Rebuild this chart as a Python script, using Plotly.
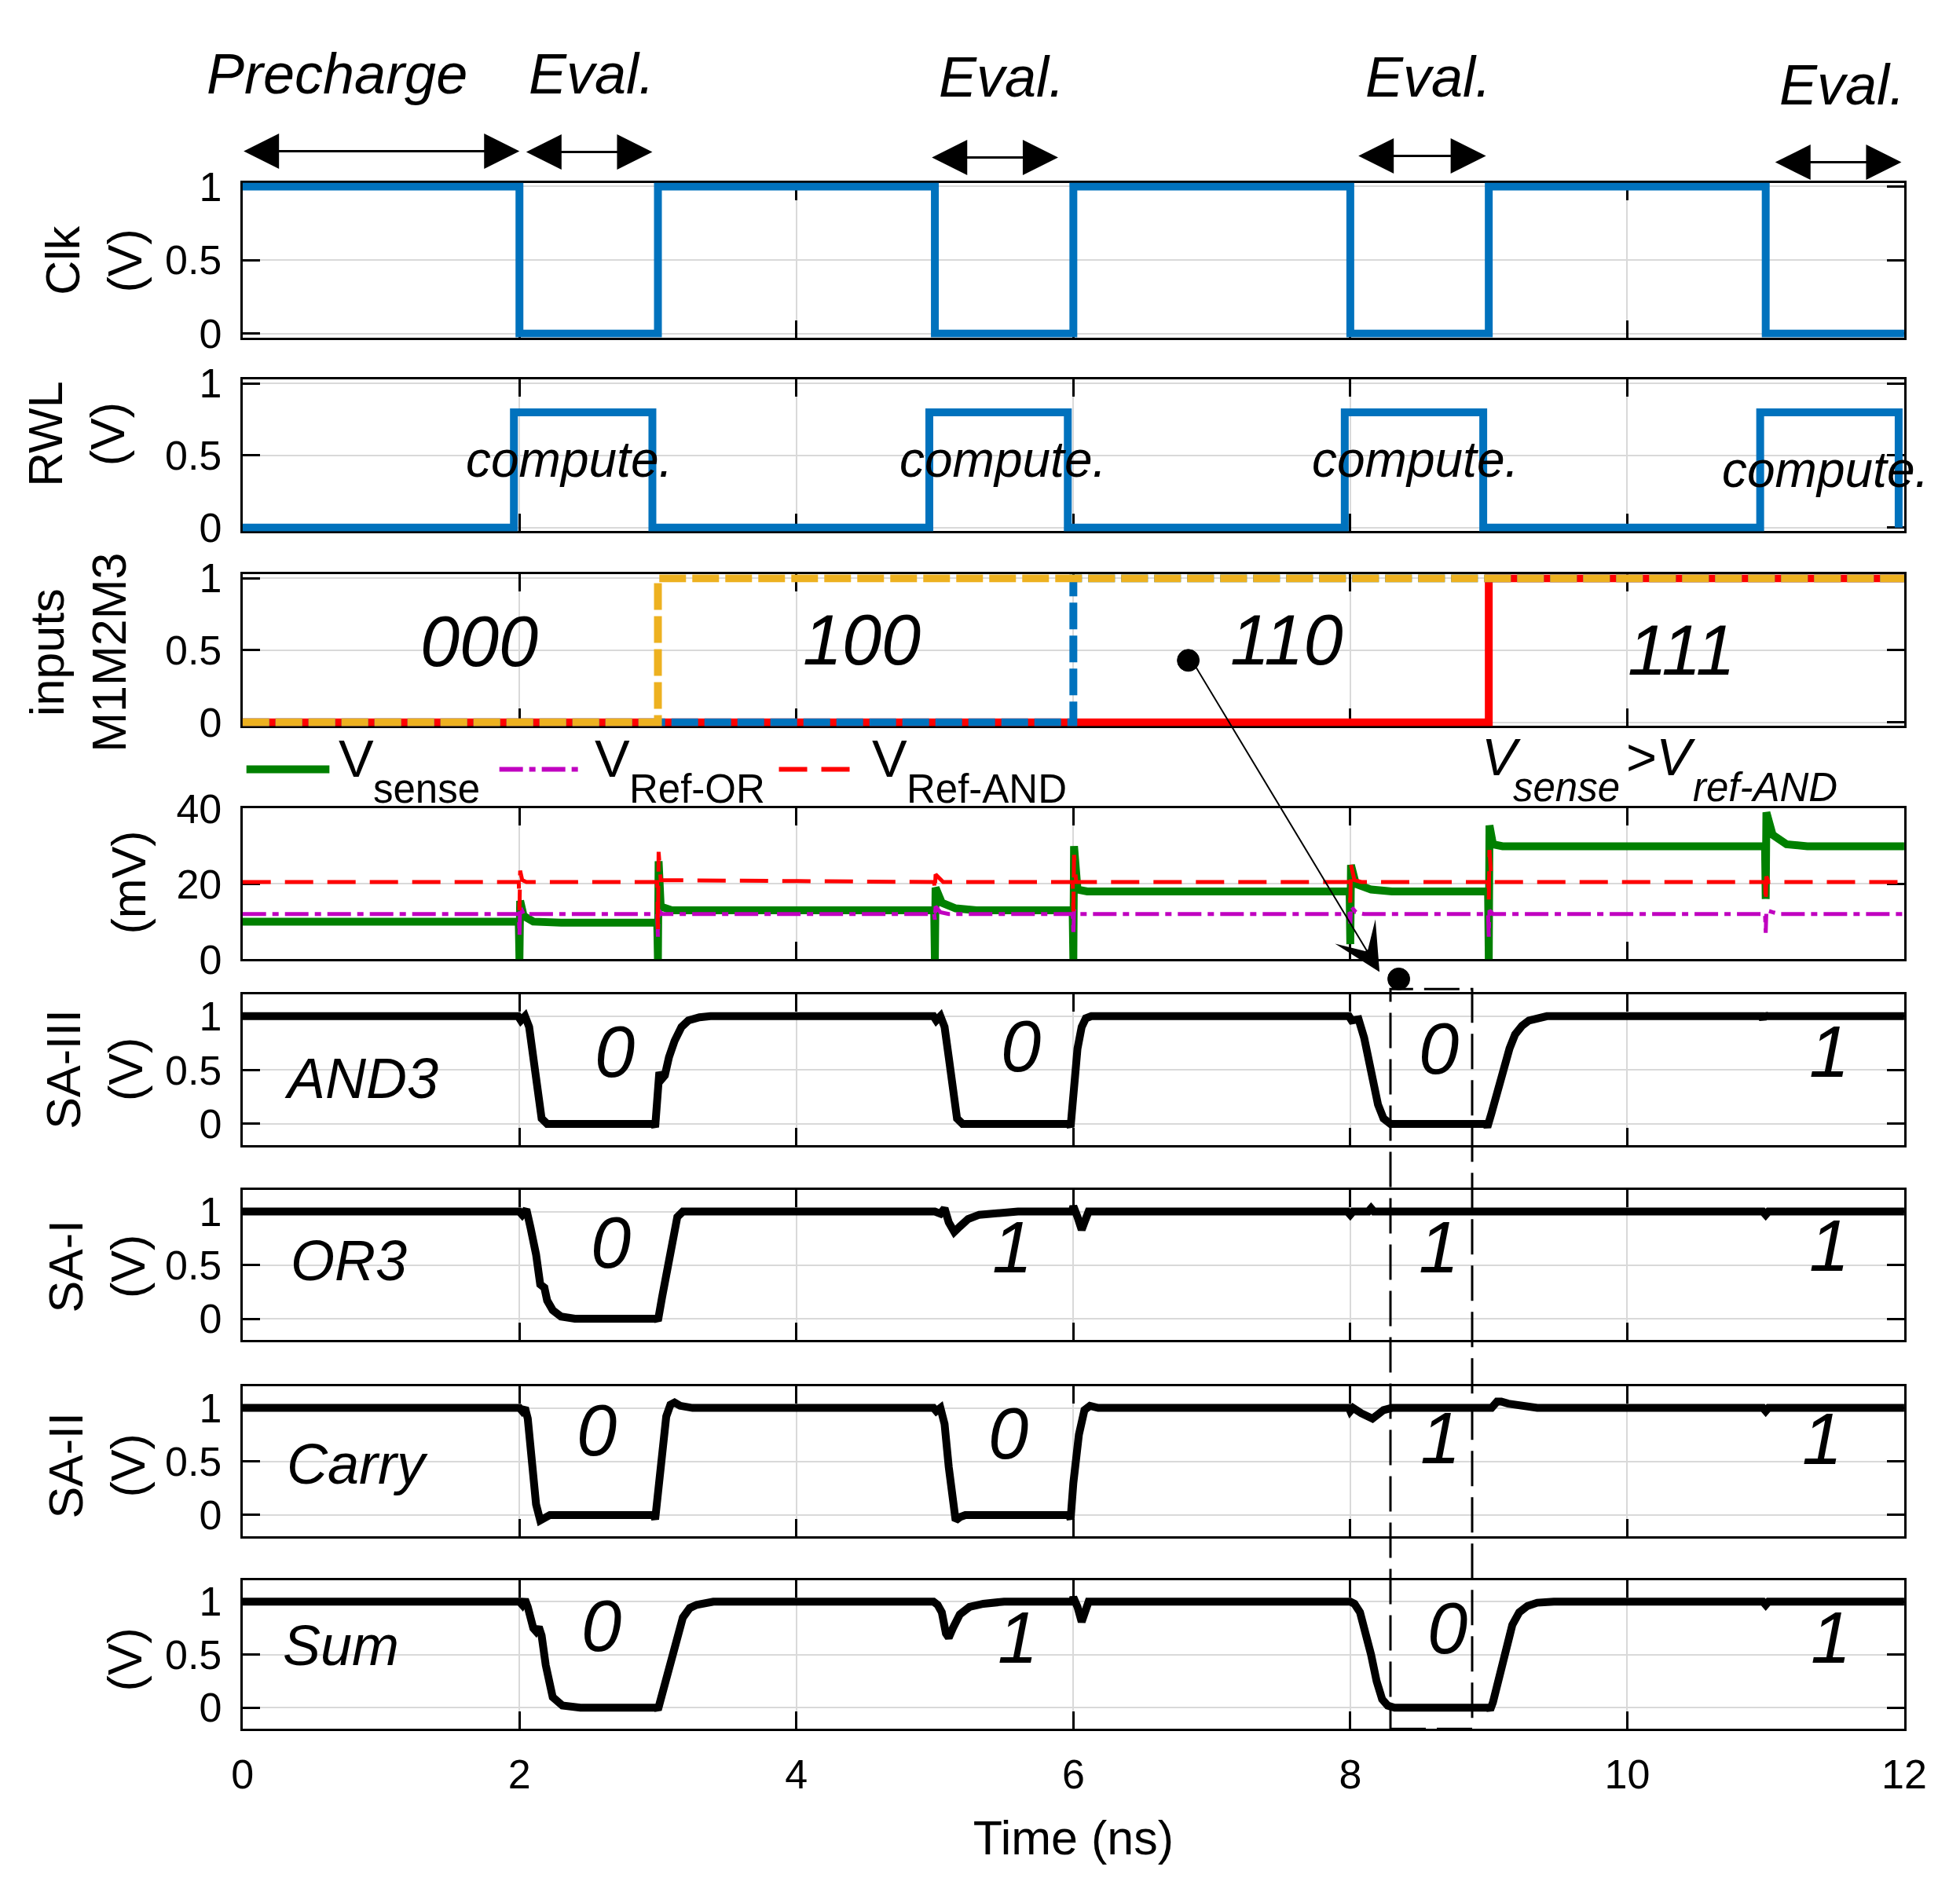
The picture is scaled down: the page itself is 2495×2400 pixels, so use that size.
import plotly.graph_objects as go

W, H = 2495, 2400
FONT = "Liberation Sans, Arial, sans-serif"

# ---------------- data ----------------
time_ticks = [0, 2, 4, 6, 8, 10, 12]
volt_ticks = [0, 0.5, 1]
mv_ticks = [0, 20, 40]

clk_t = [0, 2, 2, 3, 3, 5, 5, 6, 6, 8, 8, 9, 9, 11, 11, 12]
clk_v = [1, 1, 0, 0, 1, 1, 0, 0, 1, 1, 0, 0, 1, 1, 0, 0]

rwl_t = [0, 1.96, 1.96, 2.96, 2.96, 4.96, 4.96, 5.96, 5.96, 7.96, 7.96, 8.96, 8.96,
         10.96, 10.96, 11.96, 11.96]
rwl_v = [0, 0, 0.8, 0.8, 0, 0, 0.8, 0.8, 0, 0, 0.8, 0.8, 0, 0, 0.8, 0.8, 0]

m1_t = [0, 3, 3, 12]
m1_v = [0, 0, 1, 1]
m2_t = [0, 6, 6, 12]
m2_v = [0, 0, 1, 1]
m3_t = [0, 9, 9, 12]
m3_v = [0, 0, 1, 1]
input_labels = ["000", "100", "110", "111"]
input_label_t = [1.71, 4.47, 7.54, 10.39]
input_label_v = [0.56, 0.57, 0.57, 0.50]

vsense_t = [0, 1.995, 2.0, 2.005, 2.03, 2.1, 2.3, 2.995, 3.0, 3.005, 3.02, 3.1,
            4.995, 5.0, 5.005, 5.05, 5.15, 5.3, 5.995, 6.0, 6.005, 6.03, 6.1,
            7.995, 8.0, 8.005, 8.04, 8.15, 8.3, 8.995, 9.0, 9.005, 9.03, 9.1,
            10.995, 11.0, 11.005, 11.05, 11.15, 11.3, 12]
vsense_v = [10, 10, 0, 15.5, 11.5, 10, 9.7, 9.7, 0, 26, 14, 13,
            13, 0, 19, 15, 13.5, 13, 13, 0, 30, 18.5, 18,
            18, 4, 25, 20, 18.5, 18, 18, 0, 35.5, 30.5, 30,
            30, 16, 39, 33, 30.5, 30, 30]

vref_or_t = [0, 1.995, 2.0, 2.005, 2.03, 2.995, 3.0, 3.005, 3.03, 4.995, 5.0, 5.005,
             5.04, 5.1, 5.995, 6.0, 6.005, 6.03, 7.995, 8.0, 8.005, 8.04, 8.1,
             8.995, 9.0, 9.005, 9.03, 10.995, 11.0, 11.005, 11.05, 11.1, 12]
vref_or_v = [12, 12, 6.5, 14, 12, 12, 6, 13, 12, 12, 10.5, 14,
             12.5, 12, 12, 6.5, 13, 12, 12, 9.5, 14, 12.5, 12,
             12, 6, 13, 12, 12, 7, 13, 12.5, 12, 12]

vref_and_t = [0, 1.995, 2.0, 2.005, 2.02, 2.05, 2.995, 3.0, 3.005, 3.02, 4.995, 5.0,
              5.005, 5.03, 5.06, 5.995, 6.0, 6.005, 6.02, 7.995, 8.0, 8.005, 8.03,
              8.08, 8.995, 9.0, 9.005, 9.02, 10.995, 11.0, 11.005, 11.02, 12]
vref_and_v = [20.5, 20.5, 13, 23.5, 21, 20.5, 20.5, 8, 28.5, 21, 20.5, 18,
              22.5, 21.5, 20.5, 20.5, 12.7, 27.7, 20.5, 20.5, 15, 25, 21,
              20.5, 20.5, 15.5, 29, 20.5, 20.5, 15, 22, 20.5, 20.5]

and3_t = [0, 1.99, 2.01, 2.04, 2.07, 2.1, 2.13, 2.16, 2.2, 2.97, 2.98, 3.0, 3.01,
          3.03, 3.05, 3.08, 3.12, 3.17, 3.22, 3.3, 3.38, 4.99, 5.01, 5.04, 5.07,
          5.1, 5.13, 5.16, 5.2, 5.97, 5.98, 6.0, 6.03, 6.06, 6.09, 6.13, 7.99,
          8.01, 8.06, 8.1, 8.15, 8.2, 8.24, 8.29, 8.98, 8.99, 9.02, 9.06, 9.1,
          9.15, 9.19, 9.24, 9.29, 9.35, 9.42, 10.97, 10.98, 10.99, 11.0, 12]
and3_v = [1, 1, 0.96, 1.0, 0.9, 0.62, 0.25, 0.05, 0, 0, -0.03, 0.35, 0.48,
          0.42, 0.45, 0.62, 0.77, 0.9, 0.96, 0.99, 1.0, 1, 0.96, 1.0, 0.9,
          0.62, 0.25, 0.05, 0, 0, -0.03, 0.3, 0.7, 0.9, 0.98, 1.0, 1,
          0.96, 0.97, 0.8, 0.5, 0.18, 0.05, 0, 0, -0.03, 0.1, 0.3, 0.5,
          0.7, 0.83, 0.91, 0.96, 0.98, 1.0, 1.0, 0.97, 1.02, 1.0, 1.0]

or3_t = [0, 2.0, 2.02, 2.05, 2.08, 2.12, 2.15, 2.18, 2.2, 2.24, 2.3, 2.4, 2.99,
         3.0, 3.03, 3.07, 3.1, 3.14, 3.18, 5.0, 5.04, 5.07, 5.1, 5.14, 5.18,
         5.24, 5.32, 5.45, 5.6, 5.99, 6.0, 6.03, 6.06, 6.08, 6.11, 7.98, 8.0,
         8.02, 8.13, 8.15, 8.17, 10.98, 11.0, 11.02, 12]
or3_v = [1, 1, 0.97, 1.02, 0.85, 0.6, 0.32, 0.29, 0.17, 0.08, 0.02, 0, 0,
         -0.02, 0.2, 0.5, 0.7, 0.95, 1.0, 1.0, 0.98, 1.03, 0.9, 0.81, 0.86,
         0.93, 0.97, 0.99, 1.0, 1.0, 1.05, 0.95, 0.83, 0.9, 1.0, 1.0, 0.97,
         1.0, 1.0, 1.03, 1.0, 1.0, 0.97, 1.0, 1.0]

carry_t = [0, 2.0, 2.02, 2.04, 2.06, 2.09, 2.12, 2.15, 2.18, 2.22, 2.97, 2.98,
           3.0, 3.03, 3.06, 3.09, 3.12, 3.16, 3.25, 4.99, 5.01, 5.04, 5.07,
           5.1, 5.13, 5.15, 5.18, 5.22, 5.97, 5.98, 6.0, 6.04, 6.08, 6.12,
           6.18, 7.99, 8.0, 8.02, 8.08, 8.13, 8.16, 8.19, 8.24, 8.3, 8.99,
           9.02, 9.06, 9.09, 9.14, 9.22, 9.35, 10.98, 11.0, 11.02, 12]
carry_v = [1, 1, 0.97, 1.0, 0.9, 0.5, 0.1, -0.05, -0.03, 0, 0, -0.04,
           0.2, 0.6, 0.92, 1.03, 1.05, 1.02, 1.0, 1.0, 0.97, 1.0, 0.85,
           0.45, 0.05, -0.05, -0.02, 0, 0, -0.04, 0.3, 0.75, 0.98, 1.02,
           1.0, 1.0, 0.97, 1.0, 0.95, 0.92, 0.9, 0.93, 0.98, 1.0, 1.0,
           1.0, 1.06, 1.06, 1.04, 1.02, 1.0, 1.0, 0.97, 1.0, 1.0]

sum_t = [0, 2.0, 2.02, 2.04, 2.06, 2.08, 2.1, 2.12, 2.14, 2.16, 2.19, 2.24,
         2.31, 2.44, 2.99, 3.0, 3.04, 3.07, 3.1, 3.12, 3.15, 3.18, 3.23, 3.28,
         3.4, 4.99, 5.02, 5.05, 5.08, 5.1, 5.13, 5.18, 5.25, 5.35, 5.5, 5.99,
         6.0, 6.03, 6.06, 6.08, 6.11, 8.0, 8.03, 8.07, 8.11, 8.15, 8.19, 8.23,
         8.27, 8.32, 9.0, 9.01, 9.03, 9.06, 9.1, 9.13, 9.17, 9.22, 9.28, 9.35,
         9.47, 10.98, 11.0, 11.02, 12]
sum_v = [1, 1, 0.97, 1.02, 0.95, 0.82, 0.75, 0.72, 0.76, 0.68, 0.4, 0.1,
         0.02, 0, 0, -0.02, 0.18, 0.3, 0.45, 0.55, 0.72, 0.85, 0.94, 0.97,
         1.0, 1.0, 0.97, 0.9, 0.7, 0.66, 0.75, 0.88, 0.95, 0.98, 1.0, 1.0,
         1.04, 0.95, 0.81, 0.9, 1.0, 1.0, 0.98, 0.9, 0.72, 0.5, 0.25, 0.08,
         0.02, 0, 0, -0.02, 0.05, 0.2, 0.42, 0.6, 0.78, 0.9, 0.96, 0.99,
         1.0, 1.0, 0.97, 1.0, 1.0]

compute_t = [2.36, 5.49, 8.47, 11.43]
compute_v = [0.47, 0.47, 0.47, 0.40]

phase_labels = ["Precharge", "Eval.", "Eval.", "Eval.", "Eval."]
phase_label_t = [0.68, 2.52, 5.48, 8.56, 11.55]
arrow_start = [0.0, 2.04, 4.97, 8.05, 11.06]
arrow_end = [2.0, 2.96, 5.89, 8.98, 11.98]

and3_digits = ["0", "0", "0", "1"]
and3_digit_t = [2.69, 5.62, 8.64, 11.46]
and3_digit_v = [0.67, 0.72, 0.70, 0.67]
or3_digits = ["0", "1", "1", "1"]
or3_digit_t = [2.66, 5.56, 8.64, 11.46]
or3_digit_v = [0.71, 0.67, 0.67, 0.68]
carry_digits = ["0", "0", "1", "1"]
carry_digit_t = [2.56, 5.53, 8.65, 11.41]
carry_digit_v = [0.79, 0.76, 0.72, 0.71]
sum_digits = ["0", "1", "0", "1"]
sum_digit_t = [2.59, 5.60, 8.70, 11.47]
sum_digit_v = [0.77, 0.66, 0.75, 0.66]

# ---------------- layout helpers ----------------
# panel frame positions (pixels in the reference picture)
tops = [235, 486, 734, 1032, 1269, 1518, 1768, 2015]
bots = [432, 679, 927, 1224, 1461, 1709, 1959, 2204]
XL, XR = 310, 2432

# calibration of the page -> picture mapping
SX, OX = 1.0143, -22.7
SY, OY = 1.0246, -40.4


def px(x):
    return (SX * x + OX) / W


def py(y):
    return 1 - (SY * y + OY) / H


BLUE = "#0072BD"
RED = "#FF0000"
YELLOW = "#EDB120"
GREEN = "#008000"
MAGENTA = "#C000C0"
GRID = "#D9D9D9"

fig = go.Figure()


def add(i, t, v, color, width, dash="solid"):
    fig.add_trace(go.Scatter(
        x=t, y=v, mode="lines", xaxis=f"x{i}" if i > 1 else "x",
        yaxis=f"y{i}" if i > 1 else "y",
        line=dict(color=color, width=width, dash=dash),
        showlegend=False, hoverinfo="skip"))


add(1, clk_t, clk_v, BLUE, 10)
add(2, rwl_t, rwl_v, BLUE, 10)
add(3, m3_t, m3_v, RED, 10)
add(3, m2_t, m2_v, BLUE, 10, dash="34px,8px")
add(3, m1_t, m1_v, YELLOW, 10, dash="34px,8px")
add(4, vsense_t, vsense_v, GREEN, 10)
add(4, vref_or_t, vref_or_v, MAGENTA, 5, dash="30px,8px,8px,8px")
add(4, vref_and_t, vref_and_v, RED, 5, dash="36px,18px")
add(5, and3_t, and3_v, "black", 10)
add(6, or3_t, or3_v, "black", 10)
add(7, carry_t, carry_v, "black", 10)
add(8, sum_t, sum_v, "black", 10)

yranges = [[-0.026, 1.026]] * 3 + [[0, 40]] + [[-0.2, 1.2]] * 4
yticks = [volt_ticks] * 3 + [mv_ticks] + [volt_ticks] * 4

axis_common = dict(
    showline=True, linecolor="black", linewidth=3, mirror="ticks",
    ticks="inside", ticklen=22, tickwidth=3, tickcolor="black",
    showgrid=True, gridcolor=GRID, gridwidth=2, zeroline=False,
    tickfont=dict(family=FONT, size=52, color="black"),
    layer="below traces",
)

layout = dict(
    width=W, height=H, margin=dict(l=0, r=0, t=0, b=0),
    paper_bgcolor="white", plot_bgcolor="white", showlegend=False,
    font=dict(family=FONT, color="black"),
)
for i in range(1, 9):
    xs = "" if i == 1 else str(i)
    xa = dict(axis_common, domain=[px(XL), px(XR)], range=[0, 12],
              tickvals=time_ticks, anchor=f"y{xs}", showticklabels=(i == 8))
    if i > 1:
        xa["matches"] = "x"
    if i == 8:
        xa["ticklabelstandoff"] = 10
        xa["title"] = dict(text="Time (ns)", font=dict(family=FONT, size=61),
                           standoff=32)
    ya = dict(axis_common, domain=[py(bots[i - 1]), py(tops[i - 1])],
              range=yranges[i - 1], tickvals=yticks[i - 1], anchor=f"x{xs}",
              ticklabelstandoff=13)
    layout[f"xaxis{xs}"] = xa
    layout[f"yaxis{xs}"] = ya
fig.update_layout(**layout)

ann = []


def text(x, y, s, size, xref="paper", yref="paper", xanchor="center",
         yanchor="middle", angle=0):
    ann.append(dict(x=x, y=y, xref=xref, yref=yref, text=s, showarrow=False,
                    xanchor=xanchor, yanchor=yanchor, textangle=angle,
                    font=dict(family=FONT, size=size, color="black")))


# y-axis titles
ytitles = ["Clk<br>(V)", "RWL<br>(V)", "inputs<br>M1M2M3", "(mV)",
           "SA-III<br>(V)", "SA-I<br>(V)", "SA-II<br>(V)", "(V)"]
ytitle_px = [(120, 334), (98, 555), (100, 833), (165, 1126),
             (121, 1364), (124, 1615), (124, 1868), (160, 2116)]
for s, (xx, yy) in zip(ytitles, ytitle_px):
    text(px(xx), py(yy), s, 61, angle=-90)

# phase labels and double arrows
arrow_y_px = [195, 196, 203, 201, 209]
label_y_px = [96, 96, 100, 100, 110]
for s, t, yy in zip(phase_labels, phase_label_t, label_y_px):
    text(t, py(yy), f"<i>{s}</i>", 72, xref="x")
for a, b, yy in zip(arrow_start, arrow_end, arrow_y_px):
    ann.append(dict(x=b, y=py(yy), xref="x", yref="paper", ax=a, ay=0,
                    axref="x", ayref="pixel", text="", showarrow=True,
                    arrowhead=2, startarrowhead=2, arrowside="end+start",
                    arrowsize=3, startarrowsize=3, arrowwidth=3,
                    arrowcolor="black"))

for t, v in zip(compute_t, compute_v):
    text(t, v, "<i>compute.</i>", 64, xref="x2", yref="y2")
for s, t, v in zip(input_labels, input_label_t, input_label_v):
    text(t, v, f"<i>{s}</i>", 90, xref="x3", yref="y3")

# SA panel labels
sa_names = ["AND3", "OR3", "Carry", "Sum"]
sa_name_t = [0.86, 0.77, 0.83, 0.71]
sa_name_v = [0.42, 0.54, 0.48, 0.59]
digit_sets = [(and3_digits, and3_digit_t, and3_digit_v),
              (or3_digits, or3_digit_t, or3_digit_v),
              (carry_digits, carry_digit_t, carry_digit_v),
              (sum_digits, sum_digit_t, sum_digit_v)]
for k in range(4):
    i = 5 + k
    text(sa_name_t[k], sa_name_v[k], f"<i>{sa_names[k]}</i>", 72,
         xref=f"x{i}", yref=f"y{i}")
    for s, t, v in zip(*digit_sets[k]):
        text(t, v, f"<i>{s}</i>", 92, xref=f"x{i}", yref=f"y{i}")

# legend (drawn above the mV panel)
shapes = []
leg = [(315, 421, GREEN, 10, "solid", 431, "sense"),
       (638, 742, MAGENTA, 6, "30px,8px,8px,8px", 758, "Ref-OR"),
       (995, 1089, RED, 6, "36px,18px", 1112, "Ref-AND")]
for x0, x1, c, w, d, tx, sub in leg:
    shapes.append(dict(type="line", xref="paper", yref="paper",
                       x0=px(x0), x1=px(x1), y0=py(982), y1=py(982),
                       line=dict(color=c, width=w, dash=d)))
    text(px(tx), py(968), "V", 67, xanchor="left")
    text(px(tx + 44), py(1007), sub, 51, xanchor="left")

# V_sense > V_ref-AND note
text(px(1890), py(966), "<i>V</i>", 67, xanchor="left")
text(px(1930), py(1005), "<i>sense</i>", 51, xanchor="left")
text(px(2074), py(966), "<i>&gt;V</i>", 67, xanchor="left")
text(px(2160), py(1005), "<i>ref-AND</i>", 51, xanchor="left")

# slanted arrow from the 110 dot to the AND3 dot
ann.append(dict(x=px(1762), y=py(1240), xref="paper", yref="paper",
                ax=SX * (1518 - 1762), ay=SY * (839 - 1240),
                axref="pixel", ayref="pixel",
                text="", showarrow=True, arrowhead=3, arrowsize=5,
                arrowwidth=2, arrowcolor="black"))

# dashed highlight box
shapes.append(dict(type="rect", xref="x5", yref="paper", x0=8.29, x1=8.88,
                   y0=py(2204), y1=py(1262), fillcolor="rgba(0,0,0,0)",
                   line=dict(color="black", width=3, dash="45px,14px")))
# dots
R = 14
shapes.append(dict(type="circle", xref="x3", yref="y3", xsizemode="pixel",
                   ysizemode="pixel", xanchor=6.83, yanchor=0.43,
                   x0=-R, x1=R, y0=-R, y1=R, fillcolor="black",
                   line=dict(color="black", width=1)))
shapes.append(dict(type="circle", xref="x5", yref="paper", xsizemode="pixel",
                   ysizemode="pixel", xanchor=8.35, yanchor=py(1249),
                   x0=-R, x1=R, y0=-R, y1=R, fillcolor="black",
                   line=dict(color="black", width=1)))

fig.update_layout(annotations=ann, shapes=shapes)
fig.write_html("out.html")
